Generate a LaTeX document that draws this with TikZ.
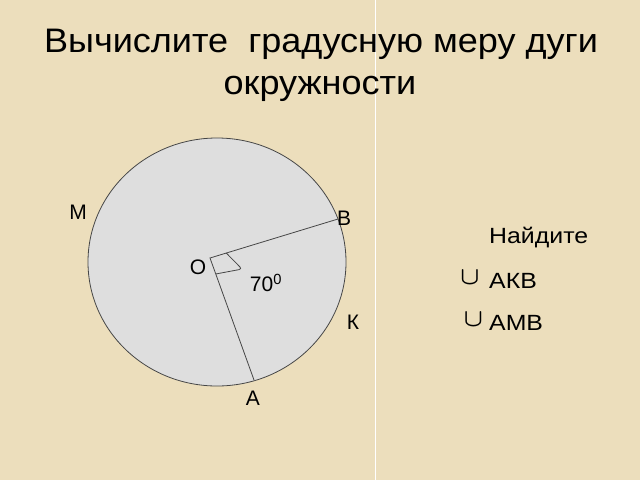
\documentclass[tikz,border=0pt]{standalone}
\usepackage{fontspec}
\setmainfont{Liberation Sans}
\usetikzlibrary{positioning,calc}
\definecolor{parchment}{RGB}{236,222,188}
\definecolor{disc}{RGB}{222,222,222}
\definecolor{edge}{RGB}{70,70,70}
\newcommand {\lbl}[3] {\node[font=\fontsize{21}{21}\selectfont] (#1) at #2 {#3};}
\newcommand {\task}[3] {\node[anchor=base west, inner sep=0pt, font=\fontsize{22}{22}\selectfont] (#1) at #2 {\scalebox{1.13}[1]{#3}};}

\begin{document}
\begin{tikzpicture}[x=1pt,y=-1pt]
	\useasboundingbox (0,0) rectangle (640,480);
	\fill[parchment] (0,0) rectangle (640,480);
	\draw[white, line width=1pt] (375,0) -- (375,480);
	% title
	\node[anchor=base, inner sep=0pt, font=\fontsize{34}{34}\selectfont] (title1) at (321,52) {\scalebox{1.06}[1]{Вычислите\ \ градусную меру дуги}};
	\node[anchor=base, inner sep=0pt, font=\fontsize{34}{34}\selectfont] (title2) at (320,94) {\scalebox{1.06}[1]{окружности}};
	% circle
	\filldraw[fill=disc, draw=edge, line width=0.8pt] (217,262) ellipse [x radius=129pt, y radius=124pt];
	\coordinate (O) at (210,258);
	\coordinate (B) at (338,219);
	\coordinate (A) at (254,380);
	\draw[edge, line width=0.8pt] (B) -- (O) -- (A);
	\draw[edge, line width=0.8pt, rounded corners=3pt] ($(O)!17pt!(B)$) -- ++(15.8pt,-16pt) coordinate (Q) -- ($(O)!17pt!(A)$);
	\lbl{M}{(78,212)}{М}
	\lbl{Blbl}{(344,218)}{В}
	\lbl{Olbl}{(198,267)}{О}
	\lbl{ang}{(266,283)}{70\textsuperscript{0}}
	\lbl{K}{(353,322)}{К}
	\lbl{Albl}{(253,398)}{А}
	% task
	\task{find}{(489,243)}{Найдите}
	\task{akb}{(489,288)}{АКВ}
	\task{amb}{(489,330)}{АМВ}
	\node[font=\fontsize{24}{24}\selectfont\boldmath, inner sep=0pt] (cup1) at (470,278) {$\cup$};
	\node[font=\fontsize{24}{24}\selectfont\boldmath, inner sep=0pt] (cup2) at (473.5,320) {$\cup$};
\end{tikzpicture}
\end{document}
